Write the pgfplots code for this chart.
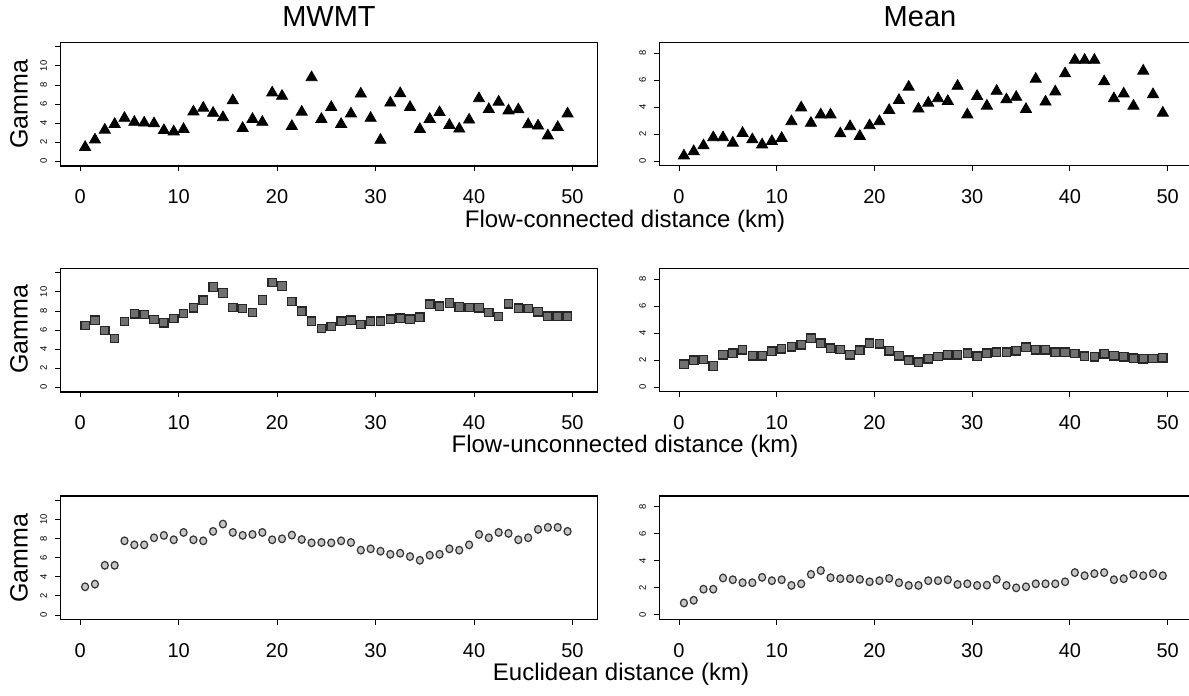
\documentclass[border=0pt]{standalone}
\usepackage{fontspec}
\setmainfont{Liberation Sans}
\usepackage{pgfplots}
\usepackage{pgfplotstable}
\pgfplotsset{compat=1.18}
\definecolor{SquareGray}{HTML}{707070}
\definecolor{CircleGray}{HTML}{C8C8C8}

% x = distance class midpoint (km), mwmt / mean = Gamma
\pgfplotstableread{
x mwmt mean
0.5 1.48 0.40
1.5 2.26 0.72
2.5 3.29 1.15
3.5 3.89 1.75
4.5 4.53 1.75
5.5 4.11 1.35
6.5 4.03 2.07
7.5 3.96 1.60
8.5 3.25 1.22
9.5 3.11 1.47
10.5 3.36 1.70
11.5 5.20 2.94
12.5 5.59 3.96
13.5 5.06 2.82
14.5 4.60 3.44
15.5 6.37 3.44
16.5 3.47 2.04
17.5 4.42 2.57
18.5 4.11 1.85
19.5 7.19 2.64
20.5 6.84 2.94
21.5 3.68 3.77
22.5 5.17 4.51
23.5 8.79 5.49
24.5 4.42 3.87
25.5 5.67 4.31
26.5 3.89 4.64
27.5 4.99 4.44
28.5 7.08 5.56
29.5 4.53 3.44
30.5 2.23 4.81
31.5 6.13 4.09
32.5 7.12 5.19
33.5 5.67 4.56
34.5 3.36 4.74
35.5 4.42 3.84
36.5 5.13 6.08
37.5 3.79 4.39
38.5 3.40 5.14
39.5 4.35 6.48
40.5 6.59 7.48
41.5 5.45 7.48
42.5 6.23 7.48
43.5 5.31 5.89
44.5 5.42 4.64
45.5 3.86 4.99
46.5 3.72 4.09
47.5 2.69 6.68
48.5 3.57 4.94
49.5 4.99 3.57
}\flowcon

\pgfplotstableread{
x mwmt mean
0.5 6.48 1.70
1.5 7.04 2.00
2.5 5.96 2.05
3.5 5.12 1.56
4.5 6.90 2.40
5.5 7.70 2.52
6.5 7.63 2.77
7.5 7.11 2.32
8.5 6.76 2.32
9.5 7.21 2.67
10.5 7.74 2.84
11.5 8.33 2.99
12.5 9.13 3.14
13.5 10.52 3.63
14.5 9.90 3.26
15.5 8.36 2.89
16.5 8.26 2.79
17.5 7.84 2.40
18.5 9.16 2.74
19.5 10.98 3.26
20.5 10.63 3.21
21.5 8.99 2.69
22.5 7.98 2.32
23.5 6.93 2.00
24.5 6.17 1.85
25.5 6.38 2.10
26.5 6.93 2.27
27.5 7.04 2.40
28.5 6.59 2.40
29.5 6.93 2.52
30.5 6.93 2.30
31.5 7.14 2.52
32.5 7.25 2.59
33.5 7.14 2.59
34.5 7.35 2.69
35.5 8.71 2.96
36.5 8.50 2.77
37.5 8.85 2.77
38.5 8.43 2.59
39.5 8.36 2.59
40.5 8.33 2.49
41.5 7.84 2.30
42.5 7.42 2.25
43.5 8.75 2.47
44.5 8.29 2.32
45.5 8.26 2.25
46.5 7.91 2.15
47.5 7.46 2.10
48.5 7.46 2.12
49.5 7.46 2.17
}\flowuncon

\pgfplotstableread{
x mwmt mean
0.5 2.96 0.88
1.5 3.24 1.08
2.5 5.21 1.90
3.5 5.21 1.90
4.5 7.78 2.73
5.5 7.36 2.60
6.5 7.36 2.38
7.5 8.10 2.38
8.5 8.35 2.78
9.5 7.89 2.53
10.5 8.66 2.60
11.5 7.89 2.18
12.5 7.78 2.30
13.5 8.77 3.00
14.5 9.54 3.28
15.5 8.66 2.75
16.5 8.35 2.68
17.5 8.45 2.68
18.5 8.66 2.63
19.5 7.89 2.45
20.5 7.99 2.53
21.5 8.38 2.70
22.5 7.92 2.38
23.5 7.57 2.18
24.5 7.61 2.18
25.5 7.57 2.53
26.5 7.78 2.53
27.5 7.61 2.60
28.5 6.80 2.25
29.5 6.94 2.30
30.5 6.69 2.18
31.5 6.37 2.20
32.5 6.48 2.63
33.5 6.13 2.18
34.5 5.74 2.00
35.5 6.27 2.08
36.5 6.37 2.30
37.5 6.94 2.30
38.5 6.80 2.30
39.5 7.36 2.45
40.5 8.45 3.13
41.5 8.10 2.90
42.5 8.66 3.05
43.5 8.56 3.13
44.5 7.89 2.60
45.5 8.10 2.68
46.5 8.98 3.00
47.5 9.19 2.90
48.5 9.19 3.05
49.5 8.77 2.90
}\euclid

\pgfplotsset{
  gpanel/.style={
    scale only axis,
    height=61.8pt,
    xmin=-2.02, xmax=52.52,
    xtick={0,10,...,50},
    xtick pos=bottom, ytick pos=left,
    tick align=outside,
    major tick length=2.5pt,
    axis line style={line width=0.6pt},
    tick style={line width=0.5pt,black},
    xticklabel style={font=\fontsize{10}{12}\selectfont,anchor=north,inner sep=0pt},
    xticklabel shift=9.2pt,
    yticklabel style={font=\fontsize{4.7}{5}\selectfont,rotate=90,anchor=south,inner sep=0pt},
    yticklabel shift=4pt,
    /pgf/number format/assume math mode=true,
    clip=false,
  },
  lpanel/.style={gpanel,width=268.5pt,ymin=-0.48,ymax=12.48,
    ytick={0,2,...,12},yticklabels={0,2,4,6,8,10,{}}},
  rpanel/.style={gpanel,width=266.5pt,ymin=-0.35,ymax=8.8,
    ytick={0,2,...,8}},
  tri/.style={only marks,mark=triangle*,mark size=3.2pt,
    mark options={fill=black,draw=black}},
  sq/.style={only marks,mark=square*,mark size=2.1pt,
    mark options={fill=SquareGray,draw=black!85,line width=0.6pt}},
  circ/.style={only marks,mark=*,mark size=1.75pt,
    mark options={fill=CircleGray,draw=black!80,line width=0.6pt,yscale=1.1}},
}

\begin{document}
\begin{tikzpicture}
% row 1: flow-connected
\begin{axis}[lpanel,at={(30.15pt,-21.15pt)},anchor=north west]
\addplot[tri] table[x=x,y=mwmt] {\flowcon};
\end{axis}
\begin{axis}[rpanel,at={(329.65pt,-21.15pt)},anchor=north west]
\addplot[tri] table[x=x,y=mean] {\flowcon};
\end{axis}
% row 2: flow-unconnected
\begin{axis}[lpanel,at={(30.15pt,-134.15pt)},anchor=north west]
\addplot[sq] table[x=x,y=mwmt] {\flowuncon};
\end{axis}
\begin{axis}[rpanel,at={(329.65pt,-134.15pt)},anchor=north west]
\addplot[sq] table[x=x,y=mean] {\flowuncon};
\end{axis}
% row 3: euclidean
\begin{axis}[lpanel,at={(30.15pt,-248pt)},anchor=north west]
\addplot[circ] table[x=x,y=mwmt] {\euclid};
\end{axis}
\begin{axis}[rpanel,at={(329.65pt,-248pt)},anchor=north west]
\addplot[circ] table[x=x,y=mean] {\euclid};
\end{axis}

\node[font=\fontsize{14.5}{17}\selectfont] at (164.5pt,-8.5pt) {MWMT};
\node[font=\fontsize{14.5}{17}\selectfont] at (460pt,-8.5pt) {Mean};
\foreach \yy in {-52pt,-164.75pt,-279pt}
  \node[font=\fontsize{12.5}{15}\selectfont,rotate=90] at (9.5pt,\yy) {Gamma};
\node[font=\fontsize{12}{14}\selectfont] at (312.5pt,-110.5pt) {Flow-connected distance (km)};
\node[font=\fontsize{12}{14}\selectfont] at (312.5pt,-223pt) {Flow-unconnected distance (km)};
\node[font=\fontsize{12}{14}\selectfont] at (310.5pt,-337pt) {Euclidean distance (km)};

\pgfresetboundingbox
\path[use as bounding box] (0pt,0pt) rectangle (594.5pt,-348pt);
\end{tikzpicture}
\end{document}
